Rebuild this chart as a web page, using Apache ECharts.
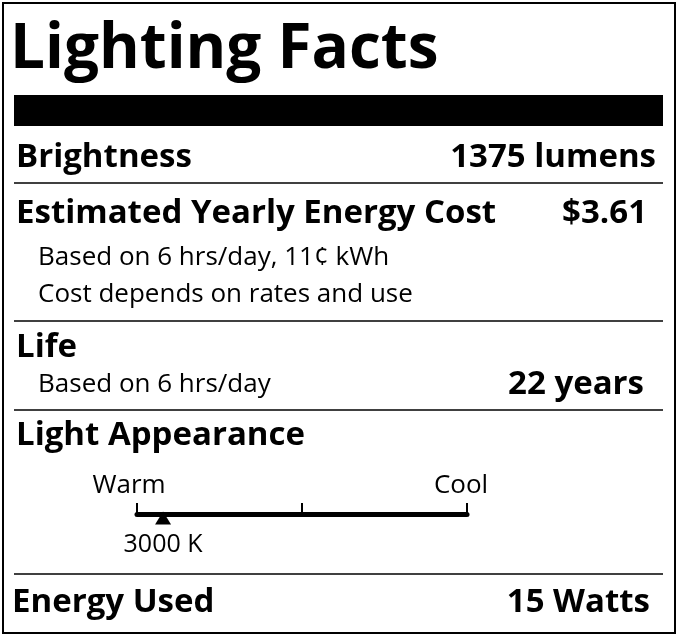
<!DOCTYPE html>
<html><head><meta charset="utf-8">
<script src="https://cdn.jsdelivr.net/npm/echarts@6/dist/echarts.min.js"></script>
<style>html,body{margin:0;padding:0;background:#fff}#c{width:679px;height:637px}</style>
</head><body><div id="c"></div>
<script>
// label rows
const rowNames = ['Brightness', 'Estimated Yearly Energy Cost', 'Life', 'Light Appearance', 'Energy Used'];
const rowValues = ['1375 lumens', '$3.61', '22 years', '', '15 Watts'];
const costNotes = ['Based on 6 hrs/day, 11¢ kWh', 'Cost depends on rates and use'];
const lifeNote = 'Based on 6 hrs/day';
// colour scale (kelvin)
const scaleTicks = [2700, 4600, 6500];
const bulbTemp = [3000];

const chart = echarts.init(document.getElementById('c'), null, { renderer: 'canvas' });
const F = '"Open Sans", Lato, sans-serif';
const bold = (t, x, y, size, align) => ({
  type: 'text', x, y,
  style: { text: t, font: `bold ${size}px ${F}`, fill: '#000', textAlign: align || 'left', textVerticalAlign: 'middle' }
});
const reg = (t, x, y, align) => ({
  type: 'text', x, y,
  style: { text: t, font: `26px ${F}`, fill: '#000', textAlign: align || 'left', textVerticalAlign: 'middle' }
});
const hline = y => ({ type: 'line', shape: { x1: 14, y1: y, x2: 663, y2: y }, style: { stroke: '#000', lineWidth: 1.5 } });

chart.setOption({
  animation: false,
  grid: { left: 137, width: 330, top: 503, height: 11 },
  xAxis: {
    type: 'value', min: scaleTicks[0], max: scaleTicks[2],
    axisLine: { lineStyle: { color: '#000', width: 5 } },
    axisTick: { show: false }, axisLabel: { show: false }, splitLine: { show: false }
  },
  yAxis: { type: 'value', min: 0, max: 1, show: false },
  series: [{
    type: 'scatter', symbol: 'triangle', symbolSize: [16, 13], symbolOffset: [0, 4],
    itemStyle: { color: '#000', opacity: 1 },
    label: { show: true, position: 'bottom', distance: 8, formatter: p => p.value[0] + ' K', fontSize: 25, fontFamily: F, color: '#000' },
    markLine: {
      silent: true, symbol: 'none', label: { show: false },
      lineStyle: { color: '#000', width: 2, type: 'solid', opacity: 1 },
      data: scaleTicks.map(v => ({ xAxis: v }))
    },
    data: bulbTemp.map(v => [v, 0])
  }],
  graphic: [
    { type: 'rect', shape: { x: 3, y: 3, width: 672, height: 630 }, style: { fill: 'none', stroke: '#000', lineWidth: 2 } },
    bold('Lighting Facts', 10, 50, 62),
    { type: 'rect', shape: { x: 14, y: 95, width: 649, height: 31 }, style: { fill: '#000' } },
    bold(rowNames[0], 16, 158, 33), bold(rowValues[0], 656, 158, 33, 'right'),
    hline(183),
    bold(rowNames[1], 16, 214, 33), bold(rowValues[1], 647, 214, 33, 'right'),
    reg(costNotes[0], 38, 258), reg(costNotes[1], 38, 295),
    hline(321),
    bold(rowNames[2], 16, 348, 33),
    reg(lifeNote, 38, 385), bold(rowValues[2], 644, 385, 33, 'right'),
    hline(410),
    bold(rowNames[3], 16, 436, 33),
    reg('Warm', 129, 486, 'center'), reg('Cool', 461, 486, 'center'),
    hline(574),
    bold(rowNames[4], 12, 603, 33), bold(rowValues[4], 650, 603, 33, 'right')
  ]
});
</script></body></html>
